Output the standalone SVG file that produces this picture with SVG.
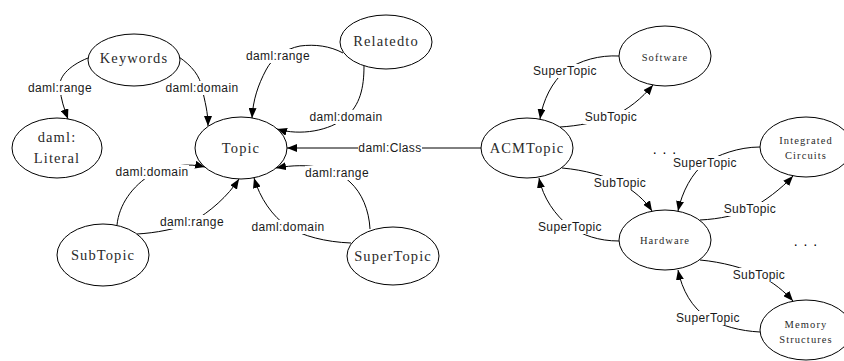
<svg xmlns="http://www.w3.org/2000/svg" width="844" height="361" viewBox="0 0 844 361">
<style>
.node ellipse{fill:#fff;stroke:#000;stroke-width:1}
.nt{font-family:"Liberation Serif","Times New Roman",serif;font-size:14.5px;letter-spacing:1.1px;text-anchor:middle;fill:#2a2a2a}
.ns{font-family:"Liberation Serif","Times New Roman",serif;font-size:10.5px;letter-spacing:1.1px;text-anchor:middle;fill:#2a2a2a}
.edges path{fill:none;stroke:#000;stroke-width:1;marker-end:url(#arr)}
.lbl rect{fill:#fff;stroke:none}
.lbl text{font-family:"Liberation Sans",Arial,sans-serif;font-size:12px;letter-spacing:0.4px;text-anchor:middle;fill:#1a1a1a}
.dots{font-family:"Liberation Sans",Arial,sans-serif;font-size:14px;letter-spacing:1px;text-anchor:middle;fill:#000}
</style>
<defs>
<marker id="arr" viewBox="0 0 10 8" refX="10" refY="4" markerWidth="10" markerHeight="8" markerUnits="userSpaceOnUse" orient="auto">
<path d="M0,0 L10,4 L0,8 Z" fill="#000"/>
</marker>
</defs>
<rect width="844" height="361" fill="#fff"/>
<g id="connectors" class="edges">
<path d="M88,58 C68,66 58,78 60,88 C61,100 64,108 68,119"/>
<path d="M179,57 C192,66 200,76 202,88 C205,102 208,112 208,126"/>
<path d="M343,53 C330,46 315,44 300,46 C285,49 272,58 266,70 C258,85 253,100 252,118"/>
<path d="M364,66 C364,88 360,105 346,117 C330,131 300,136 277,129"/>
<path d="M117,225 C119,205 132,186 152,174 C170,165 188,163 205,167"/>
<path d="M137,234 C155,233 178,229 192,222 C210,212 228,196 239,179"/>
<path d="M351,243 C325,242 303,236 288,227 C272,216 260,198 254,178"/>
<path d="M370,229 C369,210 362,193 350,182 C335,168 310,162 276,168"/>
<path d="M482,148 L287,148"/>
<path d="M619,56 C600,55 580,60 565,71 C552,82 543,100 540,119"/>
<path d="M560,127 C578,126 598,122 611,117 C628,110 642,98 653,85"/>
<path d="M562,168 C585,170 605,176 620,183 C633,190 645,200 652,211"/>
<path d="M619,241 C598,241 583,235 570,227 C555,215 543,198 539,178"/>
<path d="M760,147 C738,147 718,155 705,163 C692,173 682,192 678,211"/>
<path d="M700,220 C720,219 738,215 750,209 C765,201 781,189 793,176"/>
<path d="M700,260 C722,262 744,268 759,275 C773,282 785,292 793,301"/>
<path d="M760,332 C740,331 722,326 708,318 C692,308 682,290 678,270"/>
</g>
<g id="edge-labels" class="lbl">
<rect x="28" y="81" width="64" height="14"/><text x="60" y="92">daml:range</text>
<rect x="165" y="81" width="74" height="14"/><text x="202" y="92">daml:domain</text>
<rect x="246" y="49" width="64" height="14"/><text x="278" y="60">daml:range</text>
<rect x="309" y="110" width="74" height="14"/><text x="346" y="121">daml:domain</text>
<rect x="115" y="165" width="74" height="14"/><text x="152" y="176">daml:domain</text>
<rect x="160" y="215" width="64" height="14"/><text x="192" y="226">daml:range</text>
<rect x="251" y="220" width="74" height="14"/><text x="288" y="231">daml:domain</text>
<rect x="305" y="166" width="64" height="14"/><text x="337" y="177">daml:range</text>
<rect x="358" y="141" width="64" height="14"/><text x="390" y="152">daml:Class</text>
<rect x="532" y="64" width="66" height="14"/><text x="565" y="75">SuperTopic</text>
<rect x="583" y="110" width="56" height="14"/><text x="611" y="121">SubTopic</text>
<rect x="592" y="176" width="56" height="14"/><text x="620" y="187">SubTopic</text>
<rect x="537" y="220" width="66" height="14"/><text x="570" y="231">SuperTopic</text>
<rect x="672" y="156" width="66" height="14"/><text x="705" y="167">SuperTopic</text>
<rect x="722" y="202" width="56" height="14"/><text x="750" y="213">SubTopic</text>
<rect x="731" y="268" width="56" height="14"/><text x="759" y="279">SubTopic</text>
<rect x="675" y="311" width="66" height="14"/><text x="708" y="322">SuperTopic</text>
</g>
<g id="node-keywords" class="node"><ellipse cx="134" cy="60" rx="46" ry="26"/><text class="nt" x="134" y="63">Keywords</text></g>
<g id="node-literal" class="node"><ellipse cx="57" cy="148" rx="45" ry="30"/><text class="nt" x="57" y="142">daml:</text><text class="nt" x="57" y="163">Literal</text></g>
<g id="node-topic" class="node"><ellipse cx="241" cy="148" rx="46" ry="31"/><text class="nt" x="241" y="153">Topic</text></g>
<g id="node-relatedto" class="node"><ellipse cx="386" cy="42" rx="46" ry="27"/><text class="nt" x="386" y="46">Relatedto</text></g>
<g id="node-subtopic" class="node"><ellipse cx="103" cy="255" rx="46" ry="31"/><text class="nt" x="103" y="260">SubTopic</text></g>
<g id="node-supertopic" class="node"><ellipse cx="393" cy="256" rx="46" ry="29"/><text class="nt" x="393" y="261">SuperTopic</text></g>
<g id="node-acmtopic" class="node"><ellipse cx="527" cy="148" rx="46" ry="30"/><text class="nt" x="527" y="153">ACMTopic</text></g>
<g id="node-software" class="node"><ellipse cx="665" cy="56" rx="46" ry="30"/><text class="ns" x="665" y="61">Software</text></g>
<g id="node-integrated" class="node"><ellipse cx="806" cy="147" rx="46" ry="30"/><text class="ns" x="806" y="144">Integrated</text><text class="ns" x="806" y="159">Circuits</text></g>
<g id="node-hardware" class="node"><ellipse cx="665" cy="240" rx="46" ry="30"/><text class="ns" x="665" y="244">Hardware</text></g>
<g id="node-memory" class="node"><ellipse cx="806" cy="330" rx="46" ry="30"/><text class="ns" x="806" y="328">Memory</text><text class="ns" x="806" y="343">Structures</text></g>
<text class="dots" x="665" y="154">. . .</text>
<text class="dots" x="806" y="246">. . .</text>
</svg>
